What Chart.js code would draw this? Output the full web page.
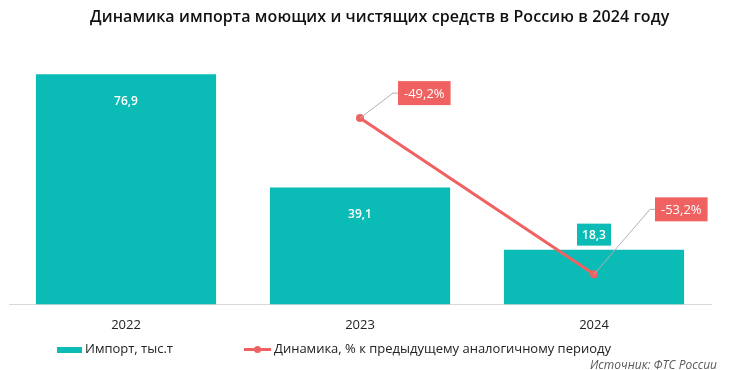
<!DOCTYPE html>
<html lang="ru">
<head>
<meta charset="utf-8">
<script src="https://cdn.jsdelivr.net/npm/chart.js@4.4.1/dist/chart.umd.min.js"></script>
<style>
    html, body { margin: 0; padding: 0; background: #fff; }
    #wrap { position: relative; width: 738px; height: 370px; font-family: "Open Sans", sans-serif; }
    #chart { position: absolute; left: 0; top: 0; }
    #title { position: absolute; left: 90px; top: 5px; font-size: 16px; font-weight: 600; color: #111; white-space: nowrap; letter-spacing: 0.1px; }
    .legend-item { position: absolute; top: 339px; font-size: 13px; color: #222; white-space: nowrap; }
    .legend-item .sw { display: inline-block; vertical-align: middle; margin-right: 3px; }
    #source { position: absolute; right: 21px; top: 356px; font-size: 12px; font-style: italic; color: #595959; }
</style>
</head>
<body>
<div id="wrap">
    <canvas id="chart" width="738" height="370"></canvas>
    <div id="title">Динамика импорта моющих и чистящих средств в Россию в 2024 году</div>
    <div class="legend-item" style="left:57px">
        <span class="sw" style="width:25px;height:6px;background:#0BBBB5"></span>Импорт, тыс.т
    </div>
    <div class="legend-item" style="left:244px">
        <span class="sw" style="position:relative;width:27px;height:3px;background:#F06262">
            <span style="position:absolute;left:10px;top:-2px;width:7px;height:7px;border-radius:50%;background:#F06262"></span>
        </span>Динамика, % к предыдущему аналогичному периоду
    </div>
    <div id="source">Источник: ФТС России</div>
</div>
<script>
// --- Données ---
const years = ['2022', '2023', '2024'];
const importValues = [76.9, 39.1, 18.3];
const dynamicsValues = [null, -49.2, -53.2];

const TEAL = '#0BBBB5';
const RED = '#F06262';

const fmt = (v) => v.toFixed(1).replace('.', ',');

// Étiquettes des barres et de la courbe
const labelsPlugin = {
    id: 'labels',
    afterDatasetsDraw(chart) {
        const ctx = chart.ctx;
        ctx.save();
        ctx.textAlign = 'center';
        ctx.textBaseline = 'middle';

        // barres
        const barMeta = chart.getDatasetMeta(0);
        barMeta.data.forEach((bar, i) => {
            const txt = fmt(importValues[i]);
            const h = bar.base - bar.y;
            ctx.font = '600 12px "Open Sans"';
            if (h > 60) {
                ctx.fillStyle = '#fff';
                ctx.fillText(txt, bar.x, bar.y + 27);
            } else {
                const cy = bar.y - 15;
                ctx.fillStyle = TEAL;
                ctx.fillRect(bar.x - 17, cy - 11, 34, 22);
                ctx.fillStyle = '#fff';
                ctx.fillText(txt, bar.x, cy + 1);
            }
        });

        // courbe
        const lineMeta = chart.getDatasetMeta(1);
        lineMeta.data.forEach((pt, i) => {
            const v = dynamicsValues[i];
            if (v === null || pt.skip) return;
            const txt = fmt(v) + '%';
            ctx.font = '13px "Open Sans"';
            const w = ctx.measureText(txt).width + 12;
            // coude du trait de rappel
            const elbowX = i === 1 ? pt.x + 33 : pt.x + 56;
            const elbowY = i === 1 ? pt.y - 25 : pt.y - 65;
            const boxX = elbowX + 5;
            ctx.strokeStyle = '#b0b0b0';
            ctx.lineWidth = 1;
            ctx.beginPath();
            ctx.moveTo(pt.x, pt.y);
            ctx.lineTo(elbowX, elbowY);
            ctx.lineTo(boxX, elbowY);
            ctx.stroke();
            ctx.fillStyle = RED;
            ctx.fillRect(boxX, elbowY - 12, w, 24);
            ctx.fillStyle = '#fff';
            ctx.fillText(txt, boxX + w / 2, elbowY + 1);
        });
        ctx.restore();
    }
};

new Chart(document.getElementById('chart'), {
    data: {
        labels: years,
        datasets: [
            {
                type: 'bar',
                label: 'Импорт, тыс.т',
                data: importValues,
                backgroundColor: TEAL,
                barPercentage: 0.77,
                categoryPercentage: 1,
                yAxisID: 'y',
                order: 2
            },
            {
                type: 'line',
                label: 'Динамика, % к предыдущему аналогичному периоду',
                data: dynamicsValues,
                borderColor: RED,
                backgroundColor: RED,
                borderWidth: 3,
                pointRadius: 4,
                pointBackgroundColor: RED,
                pointBorderWidth: 0,
                yAxisID: 'y1',
                order: 1
            }
        ]
    },
    options: {
        responsive: false,
        animation: false,
        layout: { padding: { left: 9, right: 27, top: 65, bottom: 32 } },
        plugins: {
            legend: { display: false },
            tooltip: { enabled: false }
        },
        scales: {
            x: {
                grid: { display: false },
                border: { display: true, color: '#d9d9d9', width: 1 },
                ticks: { color: '#222', font: { family: '"Open Sans"', size: 13 }, padding: 5 }
            },
            y: {
                display: false,
                min: 0,
                max: 80
            },
            y1: {
                display: false,
                min: -53.97,
                max: -47.84
            }
        }
    },
    plugins: [labelsPlugin]
});
</script>
</body>
</html>
